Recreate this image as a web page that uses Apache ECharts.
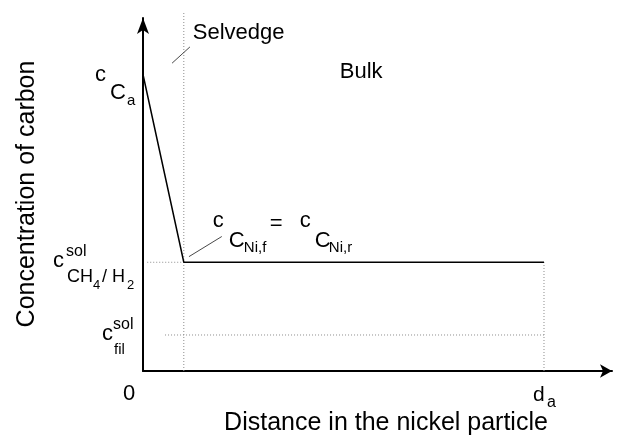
<!DOCTYPE html>
<html><head><meta charset="utf-8">
<script src="https://cdn.jsdelivr.net/npm/echarts@6/dist/echarts.min.js"></script>
<style>html,body{margin:0;padding:0;background:#fff}#c{width:618px;height:444px}</style>
</head><body><div id="c"></div>
<script>
// ---- data (arbitrary units) ----
const xRange = [0, 100];
const yRange = [0, 100];
const selvedgeX = 8.7;        // selvedge thickness
const particleD = 85.5;       // d_a
const cCa = 84;               // c_C,a
const cSolCH4 = 30.8;         // c^sol CH4/H2 = c_C,Ni,f = c_C,Ni,r
const cSolFil = 10.2;         // c^sol fil
const profileX = [0, selvedgeX, particleD];
const profileY = [cCa, cSolCH4, cSolCH4];
const selvedgeGuideTop = 101.7;
const ch4GuideStart = 0.9;
const filGuideStart = 4.7;
const selvedgeLeaderX = [6.2, 10.0];
const selvedgeLeaderY = [87.2, 91.8];
const niLeaderX = [9.8, 16.8];
const niLeaderY = [32.4, 38.1];
const xTickLabels = ['0', 'd', 'a'];
const xTitle = 'Distance in the nickel particle';
const yTitle = 'Concentration of carbon';

const FONT = '"Liberation Sans", Arial, Helvetica, sans-serif';
const zip = (xs, ys) => xs.map((x, i) => [x, ys[i]]);
const guideStyle = {color: '#8c8c8c', width: 1, type: [1, 2]};
const leaderStyle = {color: '#333', width: 0.9};
function lineSeries(data, style, extra) {
  return Object.assign({type: 'line', data, symbol: 'none', silent: true,
    lineStyle: style, itemStyle: {color: style.color}, animation: false}, extra || {});
}

const chart = echarts.init(document.getElementById('c'), null, {renderer: 'canvas'});
chart.setOption({
  animation: false,
  backgroundColor: '#fff',
  grid: {left: 143, right: 6, top: 18, bottom: 73, containLabel: false},
  xAxis: {type: 'value', min: xRange[0], max: xRange[1],
    axisLine: {show: true, lineStyle: {color: '#000', width: 2}, symbol: ['none', 'arrow'], symbolSize: [10, 12]},
    axisTick: {show: false}, axisLabel: {show: false}, splitLine: {show: false}},
  yAxis: {type: 'value', min: yRange[0], max: yRange[1],
    axisLine: {show: true, lineStyle: {color: '#000', width: 2}, symbol: ['none', 'arrow'], symbolSize: [9, 16]},
    axisTick: {show: false}, axisLabel: {show: false}, splitLine: {show: false}},
  series: [
    lineSeries([[selvedgeX, 0], [selvedgeX, selvedgeGuideTop]], guideStyle, {clip: false}),
    lineSeries([[ch4GuideStart, cSolCH4], [selvedgeX, cSolCH4]], guideStyle),
    lineSeries([[filGuideStart, cSolFil], [particleD, cSolFil]], guideStyle),
    lineSeries([[particleD, 0], [particleD, cSolCH4]], guideStyle),
    lineSeries(zip(selvedgeLeaderX, selvedgeLeaderY), leaderStyle),
    lineSeries(zip(niLeaderX, niLeaderY), leaderStyle),
    lineSeries(zip(profileX, profileY), {color: '#000', width: 1.5})
  ]
});

// ---- annotation text, anchored to data points, offsets in px (left, baseline) ----
const labelDefs = [
  {anchor: [0, cCa], parts: [['c', 22, -48, 8], ['C', 22, -33, 26], ['a', 15, -16, 32]]},
  {anchor: [0, cSolCH4], parts: [['c', 22, -90, 6], ['sol', 16, -77, -5], ['CH', 18, -76, 21], ['4', 13, -50, 28], ['/ H', 18, -41, 21], ['2', 13, -16, 28]]},
  {anchor: [0, cSolFil], parts: [['c', 22, -41, 7], ['sol', 16, -30, -5], ['fil', 15, -29, 20]]},
  {anchor: [selvedgeX, cSolCH4], parts: [['c', 22, 29, -34], ['C', 22, 45, -14], ['Ni,f', 15, 60, -9], ['=', 22, 86, -31],
    ['c', 22, 116, -34], ['C', 22, 131, -14], ['Ni,r', 15, 145, -9]]},
  {anchor: [selvedgeX, yRange[1]], parts: [['Selvedge', 22, 9, 23], ['Bulk', 22, 156, 62]]},
  {anchor: [0, 0], parts: [[xTickLabels[0], 22, -20, 31]]},
  {anchor: [particleD, 0], parts: [[xTickLabels[1], 21, -11, 32], [xTickLabels[2], 16, 3, 37]]}
];
function piece(text, size, x, base, opts) {
  opts = opts || {};
  return {type: 'text', silent: true, x: x, y: base - 0.35 * size, rotation: opts.rotation || 0,
    style: {text: text, font: size + 'px ' + FONT, fill: '#000',
      align: opts.align || 'left', verticalAlign: 'middle',
      textAlign: opts.align || 'left', textVerticalAlign: 'middle'}};
}
const g = [];
labelDefs.forEach(d => {
  const p = chart.convertToPixel({gridIndex: 0}, d.anchor);
  d.parts.forEach(([t, s, dx, dy]) => g.push(piece(t, s, p[0] + dx, p[1] + dy)));
});
const o = chart.convertToPixel({gridIndex: 0}, [0, 0]);
g.push(piece(xTitle, 25, o[0] + 243, o[1] + 61, {align: 'center'}));
// rotated y title: baseline at x, centre at y
g.push({type: 'text', silent: true, x: 36 - 0.35 * 25, y: o[1] - 177, rotation: Math.PI / 2,
  style: {text: yTitle, font: '25px ' + FONT, fill: '#000', align: 'center', verticalAlign: 'middle',
    textAlign: 'center', textVerticalAlign: 'middle'}});
chart.setOption({graphic: g});
</script></body></html>
